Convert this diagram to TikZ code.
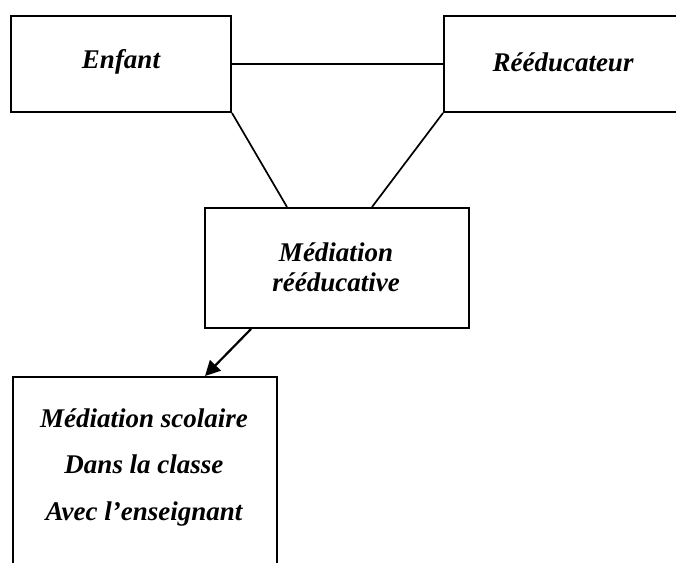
\documentclass[tikz,border=0pt]{standalone}
\usepackage{fontspec}
\setmainfont{Liberation Serif}
\usetikzlibrary{arrows.meta,calc}
\begin{document}
\begin{tikzpicture}[x=1pt,y=-1pt,
  box/.style={draw,line width=2pt,rectangle,inner sep=0pt,anchor=north west},
  lbl/.style={font=\fontsize{27}{30}\selectfont\bfseries\itshape,align=center,inner sep=0pt},
  conn/.style={line width=1.7pt},
  arr/.style={line width=2.2pt,-{Triangle[length=15pt,width=15pt]}}]
\useasboundingbox (0,0) rectangle (676,562);
\clip (0,0) rectangle (676,562);
\node[box,minimum width=220pt,minimum height=96pt] (enf) at (10,15) {};
\node[lbl] (enft) at (121,62) {Enfant};
\node[box,minimum width=240pt,minimum height=96pt] (ree) at (443,15) {};
\node[lbl] (reet) at (563,62) {Rééducateur};
\node[box,minimum width=264pt,minimum height=120pt] (med) at (204,207) {};
\node[lbl] (medt) at (336,267) {Médiation\\rééducative};
\node[box,minimum width=264pt,minimum height=200pt] (sco) at (12,376) {};
\node[lbl,font=\fontsize{27}{46.5}\selectfont\bfseries\itshape] (scot) at (144,467) {Médiation scolaire\\Dans la classe\\Avec l’enseignant};
\draw[conn] (enf.east) -- (ree.west);
\draw[conn] (enf.south east) -- ($(med.north west)+(83,0)$);
\draw[conn] (ree.south west) -- ($(med.north west)+(168,0)$);
\draw[arr] ($(med.south west)+(47,0)$) -- ($(sco.north west)+(193,0)$);
\end{tikzpicture}
\end{document}
